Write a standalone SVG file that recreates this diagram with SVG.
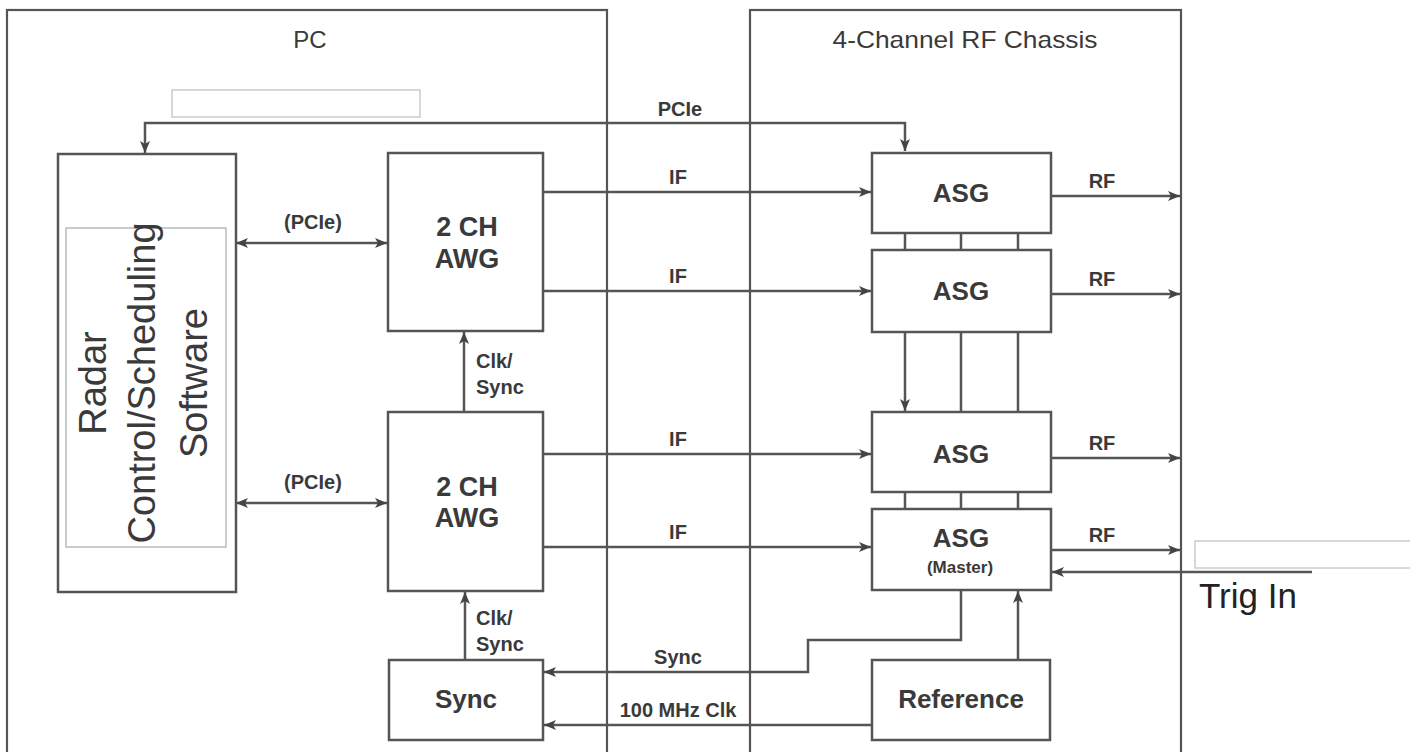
<svg xmlns="http://www.w3.org/2000/svg" width="1410" height="752" viewBox="0 0 1410 752">
<style>
.frame{fill:none;stroke:#555;stroke-width:2.2}
.box{fill:#fff;stroke:#555;stroke-width:2.5}
.ph{fill:#fff;stroke:#ccc;stroke-width:1.5}
.ln{fill:none;stroke:#555;stroke-width:2.5}
.arr{marker-end:url(#ah)}
.both{marker-start:url(#ah);marker-end:url(#ah)}
.t{font-family:"Liberation Sans",Arial,sans-serif;fill:#3a3a3a;text-anchor:middle}
.b{font-weight:bold}
.lbl{font-family:"Liberation Sans",Arial,sans-serif;font-weight:bold;font-size:20px;fill:#3a3a3a;text-anchor:middle}
.lbl.st{text-anchor:start}
.big{font-family:"Liberation Sans",Arial,sans-serif;font-weight:bold;font-size:26px;fill:#3a3a3a;text-anchor:middle}
</style>
<defs>
<marker id="ah" markerUnits="userSpaceOnUse" markerWidth="13" markerHeight="11" refX="12" refY="5" orient="auto-start-reverse" viewBox="0 0 13 11">
<path d="M0,0 L12,5 L0,10 L3,5 z" fill="#444"/>
</marker>
</defs>
<rect width="1410" height="752" fill="#fff"/>

<g id="pc">
<rect class="frame" x="7" y="10" width="600" height="760"/>
<text class="t" x="310" y="48" font-size="24" fill="#555">PC</text>
<rect class="ph" x="172" y="90" width="248" height="27"/>
</g>
<g id="rf-chassis">
<rect class="frame" x="750" y="10" width="431" height="760"/>
<text class="t" x="965" y="48" font-size="24" textLength="265" lengthAdjust="spacingAndGlyphs">4-Channel RF Chassis</text>
</g>

<g id="connectors">
<path class="ln both" d="M145,153 V123 H905 V151"/>
<path class="ln both" d="M236,243 H387"/>
<path class="ln both" d="M236,503 H387"/>
<path class="ln arr" d="M544,192 H871"/>
<path class="ln arr" d="M544,291 H871"/>
<path class="ln arr" d="M544,454 H871"/>
<path class="ln arr" d="M544,547 H871"/>
<path class="ln arr" d="M1051,196 H1180"/>
<path class="ln arr" d="M1051,294 H1180"/>
<path class="ln arr" d="M1051,458 H1180"/>
<path class="ln arr" d="M1051,550 H1180"/>
<path class="ln" d="M905,233 V250 M961,233 V250 M1018,233 V250"/>
<path class="ln arr" d="M905,332 V411"/>
<path class="ln" d="M961,332 V412 M1018,332 V412"/>
<path class="ln" d="M905,492 V509 M961,492 V509 M1018,492 V509"/>
<path class="ln arr" d="M464,412 V332"/>
<path class="ln arr" d="M465,660 V592"/>
<path class="ln arr" d="M961,590 V640 H808 V672 H544"/>
<path class="ln arr" d="M872,725 H544"/>
<path class="ln arr" d="M1018,660 V591"/>
<path class="ln arr" d="M1312,572 H1052" stroke-width="3.5"/>
<text class="lbl" x="680" y="116">PCIe</text>
<text class="lbl" x="313" y="229">(PCIe)</text>
<text class="lbl" x="313" y="489">(PCIe)</text>
<text class="lbl" x="678" y="184">IF</text>
<text class="lbl" x="678" y="283">IF</text>
<text class="lbl" x="678" y="446">IF</text>
<text class="lbl" x="678" y="539">IF</text>
<text class="lbl" x="1102" y="188">RF</text>
<text class="lbl" x="1102" y="286">RF</text>
<text class="lbl" x="1102" y="450">RF</text>
<text class="lbl" x="1102" y="542">RF</text>
<text class="lbl st" x="476" y="368">Clk/</text>
<text class="lbl st" x="476" y="394">Sync</text>
<text class="lbl st" x="476" y="625">Clk/</text>
<text class="lbl st" x="476" y="651">Sync</text>
<text class="lbl" x="678" y="664">Sync</text>
<text class="lbl" x="678" y="717">100 MHz Clk</text>
<rect class="ph" x="1195" y="541" width="220" height="27"/>
<text x="1199" y="608" font-family="Liberation Sans,Arial,sans-serif" font-size="35" fill="#222">Trig In</text>
</g>

<g id="radar-software">
<rect class="box" x="58" y="154" width="178" height="438"/>
<rect x="66" y="228" width="160" height="319" fill="none" stroke="#bbb" stroke-width="1.5"/>
<text class="t" font-size="38" transform="translate(106,383) rotate(-90)">Radar</text>
<text class="t" font-size="38" transform="translate(155,383) rotate(-90)">Control/Scheduling</text>
<text class="t" font-size="38" transform="translate(207,383) rotate(-90)">Software</text>
</g>

<g id="awg-1">
<rect class="box" x="388" y="153" width="155" height="178"/>
<text class="t b" x="467" y="236" font-size="27">2 CH</text>
<text class="t b" x="467" y="268" font-size="27">AWG</text>
</g>
<g id="awg-2">
<rect class="box" x="388" y="412" width="155" height="179"/>
<text class="t b" x="467" y="496" font-size="27">2 CH</text>
<text class="t b" x="467" y="527" font-size="27">AWG</text>
</g>
<g id="sync">
<rect class="box" x="389" y="660" width="154" height="80"/>
<text class="big" x="466" y="708">Sync</text>
</g>

<g id="asg-1">
<rect class="box" x="872" y="153" width="179" height="80"/>
<text class="big" x="961" y="202">ASG</text>
</g>
<g id="asg-2">
<rect class="box" x="872" y="250" width="179" height="82"/>
<text class="big" x="961" y="300">ASG</text>
</g>
<g id="asg-3">
<rect class="box" x="872" y="412" width="179" height="80"/>
<text class="big" x="961" y="463">ASG</text>
</g>
<g id="asg-master">
<rect class="box" x="872" y="509" width="179" height="81"/>
<text class="big" x="961" y="547">ASG</text>
<text class="t b" x="960" y="573" font-size="17">(Master)</text>
</g>
<g id="reference">
<rect class="box" x="872" y="660" width="178" height="80"/>
<text class="big" x="961" y="708">Reference</text>
</g>
</svg>
